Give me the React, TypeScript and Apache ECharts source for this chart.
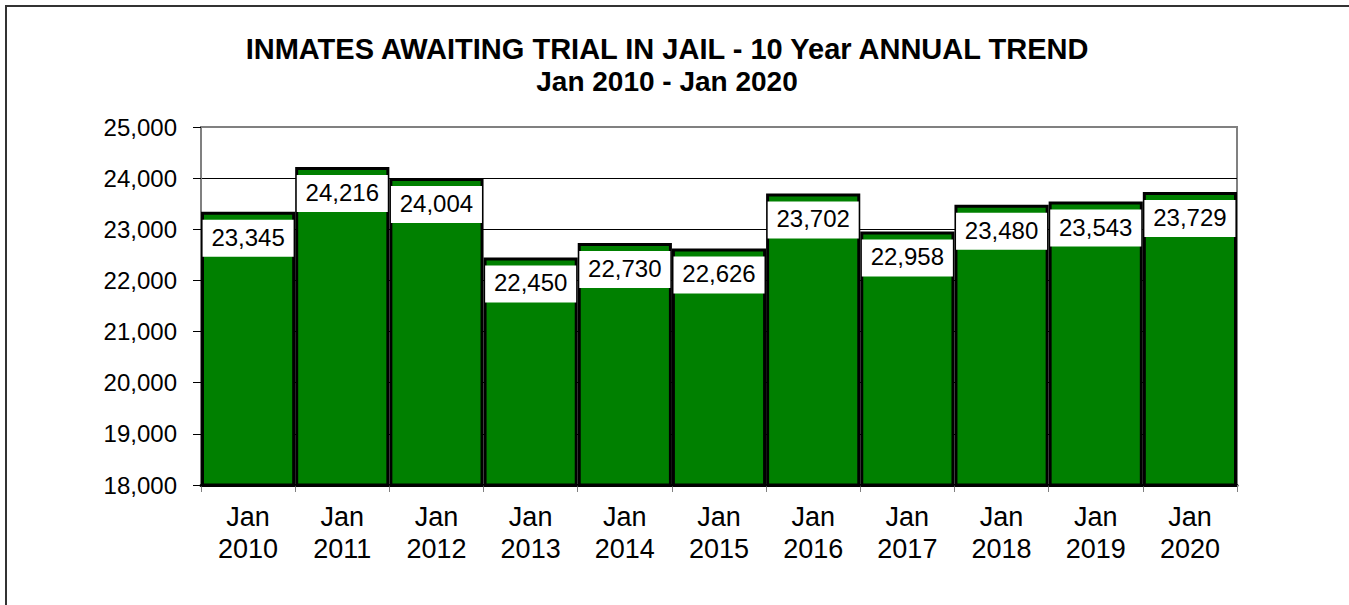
import React, { useEffect, useRef } from "react";
import * as echarts from "echarts";

const titleLines = ["INMATES AWAITING TRIAL IN JAIL - 10 Year ANNUAL TREND", "Jan 2010 - Jan 2020"];
const categories = ["Jan 2010", "Jan 2011", "Jan 2012", "Jan 2013", "Jan 2014", "Jan 2015", "Jan 2016", "Jan 2017", "Jan 2018", "Jan 2019", "Jan 2020"];
const inmates = [23345, 24216, 24004, 22450, 22730, 22626, 23702, 22958, 23480, 23543, 23729];
const yMin = 18000;
const yMax = 25000;
const yStep = 1000;

const FONT = "'Liberation Sans', Arial, Helvetica, sans-serif";

export default function App() {
  const ref = useRef<HTMLDivElement>(null);
  useEffect(() => {
    document.body.style.margin = "0";
    if (!ref.current) return;
    const chart = echarts.init(ref.current, null, { renderer: "svg" });
    const nLines = (yMax - yMin) / yStep + 1;
    const splitColors = Array.from({ length: nLines }, (_, i) => (i === nLines - 1 ? "#808080" : "#000000"));
    chart.setOption({
      animation: false,
      backgroundColor: "transparent",
      title: {
        text: `{a|${titleLines[0]}}\n{b|${titleLines[1]}}`,
        left: "center",
        top: 28,
        textStyle: {
          fontFamily: FONT,
          fontSize: 28,
          fontWeight: "bold",
          color: "#000",
          lineHeight: 32,
          rich: {
            a: { fontFamily: FONT, fontSize: 29, fontWeight: "bold", color: "#000", lineHeight: 32 },
            b: { fontFamily: FONT, fontSize: 28, fontWeight: "bold", color: "#000", lineHeight: 32 },
          },
        },
      },
      grid: {
        left: 201,
        right: 1334 - 1237,
        top: 127,
        bottom: 605 - 485,
        show: true,
        borderColor: "#808080",
        borderWidth: 2,
        backgroundColor: "transparent",
      },
      xAxis: {
        type: "category",
        data: categories,
        boundaryGap: true,
        axisLine: { show: true, lineStyle: { color: "#000", width: 3 } },
        axisTick: { show: true, length: 7, lineStyle: { color: "#808080", width: 1 } },
        axisLabel: {
          interval: 0,
          margin: 16,
          fontFamily: FONT,
          fontSize: 27,
          lineHeight: 32,
          color: "#000",
          formatter: (v: string) => v.replace(" ", "\n"),
        },
        splitLine: { show: false },
      },
      yAxis: {
        type: "value",
        min: yMin,
        max: yMax,
        interval: yStep,
        axisLine: { show: true, lineStyle: { color: "#808080", width: 2 } },
        axisTick: { show: true, length: 8, lineStyle: { color: "#000", width: 1 } },
        axisLabel: {
          margin: 24,
          fontFamily: FONT,
          fontSize: 24,
          color: "#000",
          formatter: (v: number) => v.toLocaleString("en-US"),
        },
        splitLine: { show: true, lineStyle: { color: splitColors, width: 1 } },
      },
      series: [
        {
          type: "bar",
          data: inmates,
          barCategoryGap: "0%",
          itemStyle: { color: "#008000", borderColor: "#000", borderWidth: 3 },
          label: {
            show: true,
            position: "insideTop",
            distance: 8,
            backgroundColor: "#fff",
            width: 91,
            align: "center",
            padding: [4, 0, 6, 0],
            fontFamily: FONT,
            fontSize: 24,
            lineHeight: 27,
            color: "#000",
            formatter: (p: any) => Number(p.value).toLocaleString("en-US"),
          },
        },
      ],
    });
    return () => chart.dispose();
  }, []);
  return (
    <div style={{ position: "fixed", left: 0, top: 0, width: 1349, height: 605, overflow: "hidden", background: "#fff" }}>
      <div
        style={{
          position: "absolute",
          left: 5,
          top: 5,
          width: 2000,
          height: 2000,
          borderLeft: "2px solid #333",
          borderTop: "2px solid #333",
          boxSizing: "border-box",
        }}
      />
      <div ref={ref} style={{ position: "absolute", left: 0, top: 0, width: 1334, height: 605 }} />
    </div>
  );
}
